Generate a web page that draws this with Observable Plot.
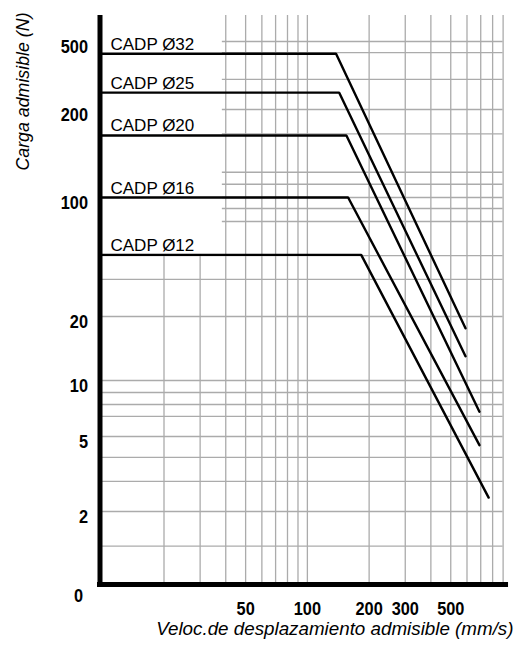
<!DOCTYPE html>
<html>
<head>
<meta charset="utf-8">
<script src="https://cdn.jsdelivr.net/npm/d3@7"></script>
<script src="https://cdn.jsdelivr.net/npm/@observablehq/plot@0.6"></script>
<style>
  body { margin: 0; background: #fff; }
  #chart svg { display: block; background: #fff; }
</style>
</head>
<body>
<div id="chart"></div>
<script>
// ---- data ----
const series      = ["CADP Ø32", "CADP Ø25", "CADP Ø20", "CADP Ø16", "CADP Ø12"];
const plateauLoad = [424, 251, 163, 100, 46];     // N
const cornerSpeed = [138, 143, 155, 158, 183];    // mm/s
const endSpeed    = [590, 590, 690, 690, 765];    // mm/s
const endLoad     = [17.6, 13, 6.8, 4.5, 2.37];   // N

const xTicks = [50, 100, 200, 300, 500];
const xTickLabels = ["50", "100", "200", "300", "500"];
const yTicks = [2, 5, 10, 20, 100, 200, 500];
const yTickLabels = ["2", "5", "10", "20", "100", "200", "500"];
const yZeroTick = [1];
const yZeroLabel = ["0"];

const gridXFull  = [40, 50, 60, 70, 80, 90, 100, 200, 300, 400, 500, 600, 700, 800, 900];
const gridXShort = [20, 30];
const gridYFull  = [1.44, 2, 2.89, 3.87, 5, 6.41, 7.43, 8.62, 10, 20, 33, 45.6];
const gridYUpper = [72.3, 86.2, 100, 111, 122, 165, 200, 300, 430, 500];

const xMin = 9.75, xMax = 1000, xGridEnd = 900, xAxisEnd = 930, xUpperGridStart = 38.5;
const yMin = 1, yMax = 710, yShortGridTop = 45.6;

const xTitle = "Veloc.de desplazamiento admisible (mm/s)";
const yTitle = "Carga admisible (N)";

// ---- build tables ----
const lineRows = series.flatMap((s, i) => [
  {series: s, v: xMin, f: plateauLoad[i]},
  {series: s, v: cornerSpeed[i], f: plateauLoad[i]},
  {series: s, v: endSpeed[i], f: endLoad[i]}
]);
const labelRows = series.map((s, i) => ({series: s, f: plateauLoad[i]}));

const gridColor = "#ababab", gridW = 1.3;
const sans = "'Liberation Sans', Arial, Helvetica, sans-serif";
const tickFont = {fontSize: 19, fontWeight: "bold", fontFamily: sans};

const chart = Plot.plot({
  width: 517,
  height: 651,
  marginLeft: 99.5,
  marginRight: 5,
  marginTop: 15,
  marginBottom: 67,
  style: {background: "#fff", color: "#000", fontFamily: sans},
  x: {type: "log", domain: [xMin, xMax]},
  y: {type: "log",
      domain: [1, 2, 5, 10, 20, 100, 200, 500, 710],
      range: [584, 511, 436, 380, 316, 197, 109, 41, 15]},
  marks: [
    // grid
    Plot.ruleX(gridXFull, {x: d => d, y1: () => yMin, y2: () => yMax, stroke: gridColor, strokeWidth: gridW}),
    Plot.ruleX(gridXShort, {x: d => d, y1: () => yMin, y2: () => yShortGridTop, stroke: gridColor, strokeWidth: gridW}),
    Plot.ruleY(gridYFull, {y: d => d, x1: () => xMin, x2: () => xGridEnd, stroke: gridColor, strokeWidth: gridW}),
    Plot.ruleY(gridYUpper, {y: d => d, x1: () => xUpperGridStart, x2: () => xGridEnd, stroke: gridColor, strokeWidth: gridW}),
    // curves
    Plot.line(lineRows, {x: "v", y: "f", z: "series", stroke: "#000", strokeWidth: 2.4, strokeLinejoin: "miter"}),
    Plot.text(labelRows, {x: () => xMin, y: "f", text: "series", textAnchor: "start", lineAnchor: "bottom",
      dx: 10.5, dy: -4, fontSize: 17, fontFamily: sans, fill: "#000"}),
    // axis lines
    Plot.ruleX([xMin], {x: d => d, y1: () => yMin, y2: () => yMax, stroke: "#000", strokeWidth: 5}),
    Plot.ruleY([yMin], {y: d => d, x1: () => xMin, x2: () => xAxisEnd, stroke: "#000", strokeWidth: 5, strokeLinecap: "square"}),
    // tick labels
    Plot.axisY(yTicks, {anchor: "left", tickSize: 0, tickPadding: 12, dy: 5, label: null,
      text: d => yTickLabels[yTicks.indexOf(d)], ...tickFont}),
    Plot.axisY(yZeroTick, {anchor: "left", tickSize: 0, tickPadding: 17, dy: 11, label: null,
      text: d => yZeroLabel[yZeroTick.indexOf(d)], ...tickFont}),
    Plot.axisX(xTicks, {anchor: "bottom", tickSize: 0, tickPadding: 17, label: null,
      text: d => xTickLabels[xTicks.indexOf(d)], ...tickFont}),
    // axis titles
    Plot.text([yTitle], {frameAnchor: "top-left", text: d => d, rotate: -90, textAnchor: "middle", lineAnchor: "bottom",
      dx: 28 - 99.5, dy: 91 - 15, fontSize: 17.8, fontStyle: "italic", fontFamily: sans, fill: "#000"}),
    Plot.text([xTitle], {frameAnchor: "bottom-right", text: d => d, textAnchor: "end", lineAnchor: "bottom",
      dx: 1, dy: 634 - 584, fontSize: 18.8, fontStyle: "italic", fontFamily: sans, fill: "#000"})
  ]
});

// narrow (condensed) look of the bold tick numbers
d3.select(chart).selectAll('g[aria-label$="tick label"] text').each(function() {
  const t = this.getAttribute("transform");
  if (t) {
    this.setAttribute("transform", t + " scale(0.86,1)");
  } else {
    const x = +this.getAttribute("x") || 0;
    this.setAttribute("x", 0);
    this.setAttribute("transform", `translate(${x},0) scale(0.86,1)`);
  }
});
document.getElementById("chart").appendChild(chart);
</script>
</body>
</html>
